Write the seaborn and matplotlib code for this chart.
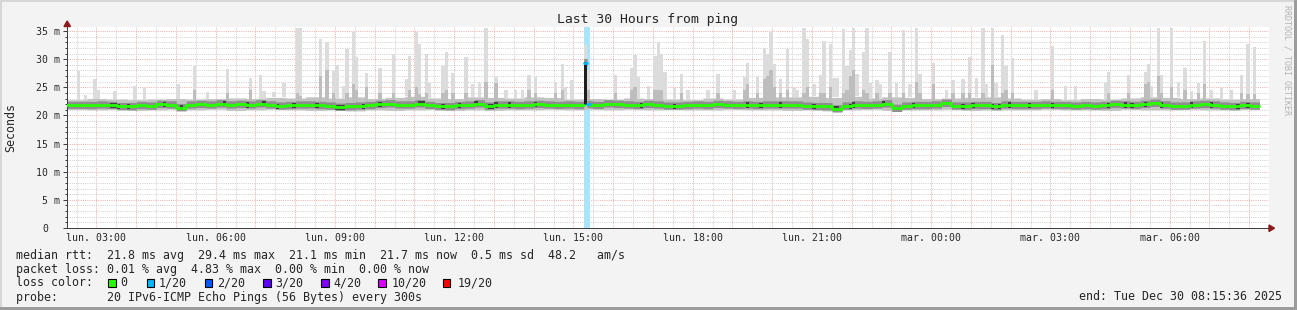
import numpy as np
import matplotlib
matplotlib.use("Agg")
import matplotlib.pyplot as plt
import seaborn as sns
from matplotlib.patches import Rectangle, Polygon
from matplotlib.transforms import ScaledTranslation

# ---------------- data ----------------
# median RTT in ms, one value per 15 minutes (30 hours)
median_15min = [
    21.8, 21.8, 21.8, 21.9, 21.8, 21.6, 21.6, 21.8, 21.7, 22.0, 21.9, 21.4,
    21.9, 22.0, 21.9, 22.1, 21.9, 22.0, 21.9, 22.1, 21.9, 21.7, 21.8, 21.9,
    21.9, 21.8, 21.7, 21.5, 21.6, 21.7, 21.8, 22.0, 22.1, 21.9, 21.9, 22.1,
    21.8, 21.6, 21.6, 21.8, 21.9, 22.1, 21.7, 21.9, 21.9, 21.8, 21.9, 22.0,
    21.9, 21.8, 21.9, 21.8, 21.9, 21.8, 22.1, 22.0, 21.9, 21.8, 22.0, 21.9,
    21.7, 21.7, 21.8, 21.9, 21.8, 22.0, 21.9, 21.8, 21.9, 21.8, 21.9, 21.9,
    21.9, 21.9, 21.7, 21.6, 21.6, 21.2, 21.7, 21.9, 21.8, 21.9, 22.1, 21.3,
    21.7, 21.8, 21.8, 21.9, 22.2, 21.7, 21.7, 21.8, 21.8, 21.6, 21.9, 21.8,
    21.8, 21.8, 21.9, 21.8, 21.8, 21.7, 21.8, 21.7, 21.8, 22.0, 21.9, 21.8,
    22.0, 22.2, 21.9, 21.7, 21.7, 21.9, 22.0, 21.9, 21.7, 21.6, 21.8, 21.7,
]
# smoke body (lowest / upper usual ping) per 30 minutes, ms
body_lo_30min = [
    21.1, 21.0, 21.1, 20.9, 21.0, 21.1, 21.0, 21.1, 20.9, 21.0, 21.1, 21.0,
    20.9, 21.0, 20.8, 21.0, 20.9, 21.0, 21.1, 20.9, 21.0, 20.9, 21.0, 21.0,
    21.1, 21.0, 21.1, 21.0, 21.1, 21.0, 21.1, 21.0, 21.0, 21.1, 21.0, 21.0,
    20.9, 21.0, 20.8, 21.0, 21.1, 20.9, 21.0, 21.0, 21.1, 20.9, 21.0, 21.0,
    21.0, 21.1, 21.0, 21.0, 20.9, 21.1, 21.0, 21.0, 21.1, 21.0, 21.0, 21.1,
]
body_hi_30min = [
    22.8, 23.0, 22.9, 22.8, 22.9, 23.0, 22.9, 23.0, 23.1, 23.0, 23.2, 23.1,
    23.3, 23.1, 23.3, 23.0, 23.2, 23.4, 23.1, 23.0, 23.3, 23.2, 23.1, 23.3,
    23.2, 22.9, 23.0, 22.9, 23.1, 23.0, 22.9, 22.8, 23.1, 22.9, 23.2, 23.3,
    23.3, 23.4, 23.2, 23.4, 23.1, 23.3, 23.2, 23.0, 23.1, 23.2, 23.3, 23.1,
    22.9, 23.0, 22.8, 23.0, 22.9, 23.1, 23.3, 23.2, 23.0, 23.1, 22.9, 23.0,
]
# 5-minute samples with outlier pings: sample index, max ping (ms), top of denser smoke (0 = none)
spike_idx = [3, 5, 8, 9, 14, 20, 23, 33, 38, 42, 48, 55, 58, 59, 62, 65, 69, 70,
             76, 78, 80, 81, 83, 84, 86, 87, 90, 94, 98, 102, 103, 105, 106, 108, 109,
             113, 114, 116, 120, 122, 124, 126, 129, 132, 135, 137, 139, 141,
             147, 149, 150, 152, 156, 157, 165, 170, 171, 172, 175, 177, 178, 179, 180,
             183, 185, 187, 193, 196, 201, 204, 205, 208, 210, 211, 212, 213, 215,
             217, 219, 220, 222, 223, 225, 227, 228, 230, 231, 232, 234, 235, 236, 237,
             238, 240, 241, 242, 244, 245, 248, 250, 252, 254, 256, 257, 261, 265, 267,
             270, 272, 274, 276, 277, 279, 280, 282, 283, 285,
             292, 297, 301, 304, 313, 314, 320, 325, 326, 327, 329, 330, 333, 335, 337,
             339, 341, 343, 345, 348, 351, 354, 356, 358]
spike_top = [27.9, 23.6, 26.5, 24.6, 24.3, 25.3, 24.9, 25.6, 28.7, 24.1, 28.2, 26.6, 27.1, 24.4, 24.1, 25.7, 35.5, 35.5,
             33.6, 33.0, 27.9, 29.0, 25.3, 31.8, 34.8, 30.3, 27.5, 28.4, 30.9, 26.5, 30.5, 34.9, 32.7, 30.9, 25.7,
             28.8, 31.2, 27.5, 30.3, 25.6, 25.7, 35.5, 26.8, 24.5, 24.6, 24.6, 27.1, 26.8,
             26.0, 29.1, 25.1, 26.3, 32.5, 28.0, 27.1, 28.4, 30.7, 26.8, 25.3, 30.6, 33.0, 30.9, 27.7,
             24.9, 27.4, 24.6, 24.6, 27.4, 24.6, 26.8, 29.3, 26.8, 32.0, 30.9, 34.8, 29.1, 26.5,
             31.8, 24.9, 24.6, 35.5, 33.6, 25.6, 27.2, 33.2, 32.7, 26.6, 26.6, 35.3, 28.8, 31.6, 35.6,
             27.4, 31.2, 35.5, 25.7, 26.3, 25.6, 31.2, 25.7, 35.2, 25.6, 35.5, 27.4, 29.3, 24.6, 26.3,
             26.5, 30.3, 26.6, 35.5, 25.6, 35.5, 25.7, 34.3, 28.7, 30.2,
             24.5, 32.4, 25.3, 25.3, 25.7, 27.7, 27.1, 27.7, 29.1, 25.3, 35.5, 27.1, 35.5, 26.0, 28.4,
             24.4, 25.7, 33.3, 24.5, 24.9, 24.6, 27.1, 32.7, 32.1]
spike_mid = [0, 0, 0, 0, 0, 0, 0, 0, 24.5, 0, 24.0, 24.5, 0, 0, 0, 0, 24.0, 23.5,
             27.0, 28.0, 24.0, 0, 0, 24.0, 25.5, 24.5, 25.0, 24.0, 24.0, 0, 24.5, 25.0, 23.8, 24.0, 0,
             24.0, 24.5, 24.0, 24.0, 0, 0, 25.9, 25.8, 0, 0, 0, 24.5, 24.0,
             24.0, 24.5, 0, 0, 30.0, 24.5, 24.0, 24.5, 25.0, 0, 0, 24.5, 24.5, 24.5, 0,
             0, 24.0, 0, 0, 24.0, 0, 24.5, 25.5, 24.0, 26.5, 27.0, 28.0, 25.0, 24.0,
             24.5, 0, 0, 24.0, 25.0, 0, 24.0, 24.0, 25.0, 0, 0, 24.0, 24.5, 27.0, 28.0,
             0, 24.5, 24.0, 0, 24.0, 0, 24.0, 0, 24.0, 0, 26.0, 24.0, 25.5, 0, 24.0,
             24.0, 24.0, 0, 24.0, 0, 29.0, 0, 24.0, 24.5, 24.0,
             0, 24.5, 0, 0, 0, 24.0, 24.0, 25.5, 26.0, 0, 27.0, 24.0, 25.0, 0, 24.5,
             0, 24.0, 25.5, 0, 0, 0, 24.0, 23.8, 23.8]
# samples where the darkest smoke shows around the median
dark_idx = [13, 14, 15, 18, 29, 34, 47, 54, 59, 63, 68, 75, 81, 82, 83, 89, 94, 106, 107,
            113, 118, 123, 127, 128, 129, 133, 141, 173, 183, 205, 209, 215, 225, 231, 232,
            236, 237, 246, 255, 270, 273, 279, 281, 284, 290, 297, 314, 319, 321, 325, 330,
            339, 345, 353, 356]
# samples with packet loss (1/20)
loss_idx = [156, 157]
loss_median = [29.4, 22.0]

y_ticks = [0, 5, 10, 15, 20, 25, 30, 35]
y_tick_labels = ["0", "5 m", "10 m", "15 m", "20 m", "25 m", "30 m", "35 m"]
x_tick_labels = ["lun. 03:00", "lun. 06:00", "lun. 09:00", "lun. 12:00", "lun. 15:00",
                 "lun. 18:00", "lun. 21:00", "mar. 00:00", "mar. 03:00", "mar. 06:00"]
legend_lines = [
    "median rtt:  21.8 ms avg  29.4 ms max  21.1 ms min  21.7 ms now  0.5 ms sd  48.2   am/s",
    "packet loss: 0.01 % avg  4.83 % max  0.00 % min  0.00 % now",
    "loss color:",
    "probe:       20 IPv6-ICMP Echo Pings (56 Bytes) every 300s",
]
loss_labels = ["0", "1/20", "2/20", "3/20", "4/20", "10/20", "19/20"]
loss_colors = ["#26ff00", "#00b8ff", "#0059ff", "#5e00ff", "#7e00ff", "#dd00ff", "#ff0000"]
end_text = "end: Tue Dec 30 08:15:36 2025"
title = "Last 30 Hours from ping"

# ---------------- figure ----------------
sns.set_style("white")
plt.rcParams["font.family"] = ["DejaVu Sans Mono", "DejaVu Sans"]

W, H = 1297, 310
fig = plt.figure(figsize=(W / 100, H / 100), dpi=100, facecolor="#F3F3F3")


def fx(x):
    return x / W


def fy(y):
    return 1 - y / H


ax = fig.add_axes([fx(67), fy(228), fx(1269) - fx(67), fy(27) - fy(228)])
ax.set_facecolor("white")

step = 1 / 12  # 5 minutes in hours
med = np.repeat(np.array(median_15min, float), 3)
for i, m in zip(loss_idx, loss_median):
    med[i] = m
n = len(med)
t = np.arange(n) * step
lo = np.repeat(np.array(body_lo_30min, float), 6)
hi = np.repeat(np.array(body_hi_30min, float), 6)
t_ext = np.append(t, n * step)


def ext(a):
    return np.append(a, a[-1])


# loss background
for i in loss_idx:
    ax.axvspan(t[i], t[i] + step, color="#aae4fb", lw=0, zorder=1.5)

# smoke body
ax.fill_between(t_ext, ext(lo), ext(hi), step="post", color="#C2C2C2", lw=0, zorder=2)
# outlier spikes
sidx = np.array(spike_idx)
stop = np.array(spike_top)
smid = np.array(spike_mid)
ax.bar(t[sidx], stop - hi[sidx], bottom=hi[sidx], width=step, align="edge",
       color="#DCDCDC", lw=0, zorder=2.1)
m = smid > 0
ax.bar(t[sidx[m]], smid[m] - (med[sidx[m]] + 0.4), bottom=med[sidx[m]] + 0.4, width=step,
       align="edge", color="#BDBDBD", lw=0, zorder=2.2)
# denser smoke around median
ax.fill_between(t_ext, ext(med - 0.6), ext(med + 0.7), step="post",
                color="#8E8E8E", lw=0, zorder=2.3)
didx = np.array(dark_idx)
ax.bar(t[didx], 0.9, bottom=med[didx] - 0.5, width=step, align="edge",
       color="#404040", lw=0, zorder=2.4)
# loss sample dark smoke
ax.bar(t[loss_idx[0]], loss_median[0] - 21.9 + 0.1, bottom=21.9, width=step, align="edge",
       color="#1E1E1E", lw=0, zorder=2.5)

# median line (green = 0 loss), broken at loss samples
runs = [(0, loss_idx[0]), (loss_idx[-1] + 1, n)]
for a, b in runs:
    xs = np.append(t[a:b], t[b - 1] + step)
    ys = np.append(med[a:b], med[b - 1])
    sns.lineplot(x=xs, y=ys, ax=ax, drawstyle="steps-post", color="#26ff00",
                 linewidth=2.0, estimator=None, sort=False, zorder=6)
for i in loss_idx:
    sns.lineplot(x=[t[i], t[i] + step], y=[med[i], med[i]], ax=ax, color="#00b8ff",
                 linewidth=2.0, estimator=None, sort=False, zorder=6)

# axes
ax.set_xlim(0, n * step)
ax.set_ylim(0, 35.71)
ax.set_xlabel("")
ax.set_ylabel("")
first_hour = 3 - (2 + 15 / 60 + 36 / 3600)
hours = first_hour + np.arange(30)
ax.set_xticks(hours)
ax.set_xticklabels([x_tick_labels[k // 3] if k % 3 == 0 else "" for k in range(30)])
ax.set_xticks(np.append(hours - 0.5, hours[-1] + 0.5), minor=True)
ax.set_yticks(y_ticks)
ax.set_yticklabels(y_tick_labels)
ax.set_yticks(np.arange(1, 36), minor=True)

dots = (0, (1, 1.2))
ax.grid(True, which="major", color="#EDB0B0", linestyle=dots, linewidth=0.72)
ax.grid(True, which="minor", color="#D0D0D0", linestyle=dots, linewidth=0.72)
ax.set_axisbelow(True)

for s in ["top", "right"]:
    ax.spines[s].set_visible(False)
for s in ["left", "bottom"]:
    ax.spines[s].set_color("#404040")
    ax.spines[s].set_linewidth(0.72)

ax.tick_params(axis="y", which="major", length=2.9, width=0.72, color="#404040",
               pad=2.2, labelsize=7.1, left=True)
ax.tick_params(axis="y", which="minor", length=1.2, width=0.72, color="#404040", left=True)
ax.tick_params(axis="x", which="both", length=0, pad=3.6, labelsize=7.1)

lbl0 = ax.get_yticklabels()[0]
lbl0.set_transform(lbl0.get_transform() + ScaledTranslation(-12 / 100, 0, fig.dpi_scale_trans))

# axis arrows
fig.patches.append(Polygon([(fx(64), fy(26.5)), (fx(70.5), fy(26.5)), (fx(67.2), fy(21))],
                           closed=True, transform=fig.transFigure, color="#8B1A1A", zorder=10))
fig.patches.append(Polygon([(fx(1269), fy(225)), (fx(1269), fy(231.5)), (fx(1274.5), fy(228.2))],
                           closed=True, transform=fig.transFigure, color="#8B1A1A", zorder=10))

# texts
fig.text(fx(648), fy(19), title, ha="center", va="center", fontsize=9.45)
fig.text(fx(11), fy(127.5), "Seconds", rotation=90, ha="center", va="center", fontsize=8.35)
fig.text(fx(1287), fy(60), "RRDTOOL / TOBI OETIKER", rotation=270, ha="center", va="center",
         fontsize=6.0, color="#B4B4B4")

baselines = [258.5, 272.5, 286.5, 300.5]
for txt, yb in zip(legend_lines, baselines):
    fig.text(fx(16), fy(yb), txt, ha="left", va="baseline", fontsize=8.35)
sq_x = [108.2, 146.8, 204.9, 263.0, 321.1, 378.3, 442.7]
lab_x = [120.3, 158.9, 217.0, 275.1, 333.2, 391.3, 457.7]
for sx, lx, c, lab in zip(sq_x, lab_x, loss_colors, loss_labels):
    fig.patches.append(Rectangle((fx(sx), fy(287)), 7.5 / W, 8.5 / H, transform=fig.transFigure,
                                 facecolor=c, edgecolor="black", lw=0.8, zorder=10))
    fig.text(fx(lx), fy(286.5), lab, ha="left", va="baseline", fontsize=8.35)
fig.text(fx(1282), fy(300.5), end_text, ha="right", va="baseline", fontsize=8.35)

# outer frame
fig.patches.append(Rectangle((0, fy(2)), 1, 2 / H, transform=fig.transFigure, color="#D6D6D6", lw=0))
fig.patches.append(Rectangle((0, 0), 2 / W, 1, transform=fig.transFigure, color="#D6D6D6", lw=0))
fig.patches.append(Rectangle((0, 0), 1, 3 / H, transform=fig.transFigure, color="#9C9C9C", lw=0))
fig.patches.append(Rectangle((fx(W - 3), 0), 3 / W, 1, transform=fig.transFigure, color="#9C9C9C", lw=0))

fig.savefig("out.png", dpi=100, facecolor=fig.get_facecolor())
